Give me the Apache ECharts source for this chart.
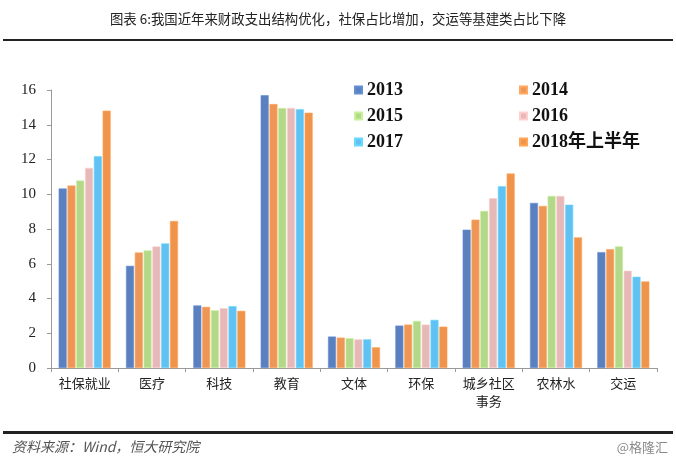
<!DOCTYPE html>
<html>
<head>
<meta charset="utf-8">
<script src="https://cdn.jsdelivr.net/npm/echarts@6/dist/echarts.min.js"></script>
<style>
html,body{margin:0;padding:0;background:#fff;}
#chart{width:676px;height:463px;}
</style>
</head>
<body>
<div id="chart"></div>
<script>
const categories = ['社保就业', '医疗', '科技', '教育', '文体', '环保', '城乡社区\n事务', '农林水', '交运'];
const seriesNames = ['2013', '2014', '2015', '2016', '2017', '2018年上半年'];
const v2013 = [10.33, 5.88, 3.60, 15.70, 1.81, 2.44, 7.96, 9.50, 6.67];
const v2014 = [10.50, 6.65, 3.52, 15.19, 1.75, 2.50, 8.54, 9.33, 6.84];
const v2015 = [10.79, 6.77, 3.32, 14.96, 1.71, 2.71, 9.04, 9.90, 7.00];
const v2016 = [11.52, 7.00, 3.44, 14.96, 1.65, 2.50, 9.77, 9.90, 5.60];
const v2017 = [12.19, 7.17, 3.56, 14.90, 1.65, 2.77, 10.46, 9.40, 5.25];
const v2018H1 = [14.81, 8.46, 3.29, 14.69, 1.19, 2.38, 11.19, 7.52, 4.98];
const yTicks = [0, 2, 4, 6, 8, 10, 12, 14, 16];
const colors = ['#5a80bf', '#ee9655', '#b3d88a', '#e6b9b8', '#5fc2f2', '#f0944c'];
const titleText = '图表 6:我国近年来财政支出结构优化，社保占比增加，交运等基建类占比下降';
const sourceText = '资料来源：Wind，恒大研究院';
const watermark = '@格隆汇';

const allValues = [v2013, v2014, v2015, v2016, v2017, v2018H1];
const chart = echarts.init(document.getElementById('chart'), null, {renderer: 'canvas'});
const legendFont = {fontFamily: '"Liberation Serif", "Times New Roman", "Noto Sans CJK SC"', fontWeight: 'bold', fontSize: 18, color: '#111'};
const option = {
  backgroundColor: '#fff',
  animation: false,
  title: {
    text: titleText, left: 'center', top: 7,
    textStyle: {fontFamily: '"Noto Sans CJK SC"', fontSize: 13.4, fontWeight: 'normal', color: '#222'}
  },
  legend: [
    {data: [seriesNames[0], seriesNames[2], seriesNames[4]], orient: 'vertical', left: 349, top: 76,
     itemWidth: 7, itemHeight: 7, itemGap: 8, icon: 'rect', textStyle: legendFont},
    {data: [seriesNames[1], seriesNames[3], seriesNames[5]], orient: 'vertical', left: 514, top: 76,
     itemWidth: 7, itemHeight: 7, itemGap: 8, icon: 'rect', textStyle: legendFont}
  ],
  grid: {left: 51, right: 19, top: 90, bottom: 95},
  xAxis: {
    type: 'category', data: categories,
    axisLine: {lineStyle: {color: '#9a9a9a'}},
    axisTick: {show: true, length: 4, lineStyle: {color: '#9a9a9a'}},
    axisLabel: {fontFamily: '"Noto Sans CJK SC"', fontSize: 13, color: '#222', margin: 6, lineHeight: 18, interval: 0}
  },
  yAxis: {
    type: 'value', min: yTicks[0], max: yTicks[yTicks.length - 1], interval: 2,
    splitLine: {show: false},
    axisLine: {show: true, lineStyle: {color: '#9a9a9a'}},
    axisTick: {show: true, length: 4, lineStyle: {color: '#9a9a9a'}},
    axisLabel: {fontFamily: '"Liberation Serif", "Times New Roman", serif', fontSize: 15, color: '#222', margin: 15}
  },
  graphic: [
    {type: 'rect', shape: {x: 3, y: 39, width: 670, height: 2}, style: {fill: '#222'}},
    {type: 'rect', shape: {x: 3, y: 431, width: 670, height: 3}, style: {fill: '#222'}},
    {type: 'text', left: 12, top: 440, style: {text: sourceText, font: 'italic 14px "Noto Sans CJK SC"', fill: '#555'}},
    {type: 'text', right: 8, top: 441, style: {text: watermark, font: '13px "Noto Sans CJK SC"', fill: '#8a8a8a'}}
  ],
  series: seriesNames.map((name, i) => ({
    name: name, type: 'bar', data: allValues[i],
    barWidth: 8, barGap: '10%',
    itemStyle: {color: colors[i], borderColor: echarts.color.lift(colors[i], -0.12), borderWidth: 0.6}
  }))
};
chart.setOption(option);
</script>
</body>
</html>
